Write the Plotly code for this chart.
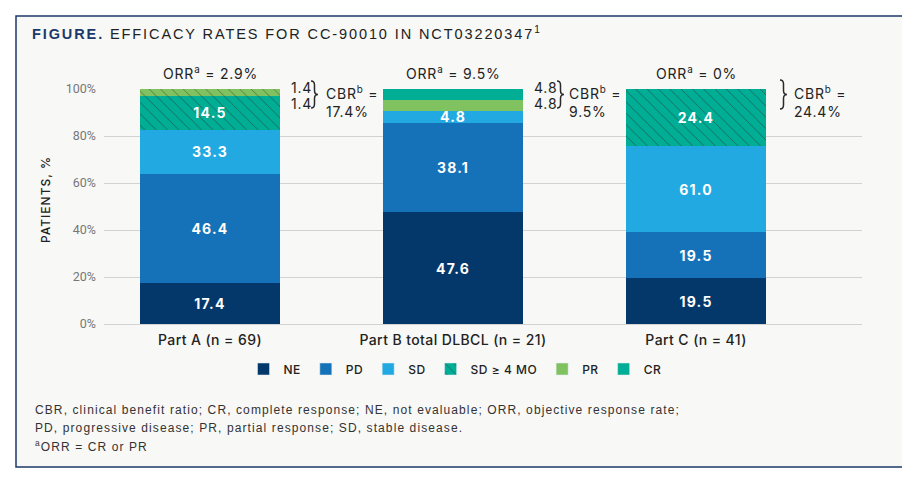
import plotly.graph_objects as go

# ---------------- data ----------------
categories = ["Part A (n = 69)", "Part B total DLBCL (n = 21)", "Part C (n = 41)"]
NE = [17.4, 47.6, 19.5]
PD = [46.4, 38.1, 19.5]
SD = [33.3, 4.8, 61.0]      # all stable disease
SD4 = [14.5, 0.0, 24.4]     # SD >= 4 months (part of SD)
PR = [1.4, 4.8, 0.0]
CR = [1.4, 4.8, 0.0]
ORR = [2.9, 9.5, 0]
CBR = [17.4, 9.5, 24.4]
legend_names = ["NE", "PD", "SD", "SD ≥ 4 MO", "PR", "CR"]
y_ticks = [0, 20, 40, 60, 80, 100]
y_ticklabels = ["0%", "20%", "40%", "60%", "80%", "100%"]

# ---------------- style ----------------
C_NE = "#05386a"
C_PD = "#1672b8"
C_SD = "#23a9e1"
C_CR = "#00ad95"
C_PR = "#80c25f"
BG = "#f8f8f6"
HATCH = dict(shape="\\", fgcolor="#333333", fgopacity=0.6, size=8, solidity=0.11)
top_hatched = [True, False, False]   # Part A top block drawn hatched

OFF = 8                      # page body margin
W, H = 900, 470
PL, PT, PWID, PHGT = 104, 89, 758, 235   # plot area in page pixels
L, T = PL - OFF, PT - OFF
R = W - L - PWID
B = H - T - PHGT
XR = [-0.436, 2.683]


def px(xp):
    return (xp - PL) / PWID


def py(yp):
    return (PT + PHGT - yp) / PHGT


def sp(t, s):
    return f"<span style='letter-spacing:{s}px'>{t}</span>"


BAR_W = 0.576
bar_font = dict(family="Inter", size=14, color="white", weight="bold")

SD_light = [s - s4 for s, s4 in zip(SD, SD4)]

fig = go.Figure()


def add_bar(y, color, text=None, pattern=None):
    fig.add_trace(go.Bar(
        x=categories, y=y, width=BAR_W,
        marker=dict(color=color, line=dict(width=0), pattern=pattern or {}),
        text=[sp(t, 1.2) if t else "" for t in text] if text else None,
        textposition="inside" if text else "none", insidetextanchor="middle", textangle=0,
        constraintext="none", textfont=bar_font, cliponaxis=False,
        showlegend=False, hoverinfo="skip",
    ))


add_bar(NE, C_NE, [f"{v}" for v in NE])
add_bar(PD, C_PD, [f"{v}" for v in PD])
add_bar(SD_light, C_SD, [f"{v}" for v in SD])
add_bar(SD4, C_CR, [f"{v}" if v > 0 else "" for v in SD4], HATCH)
top_pattern = dict(HATCH, shape=["\\" if h else "" for h in top_hatched])
add_bar(PR, C_PR, None, top_pattern)
add_bar(CR, [C_PR if h else C_CR for h in top_hatched], None, top_pattern)

# legend entries
leg_styles = [(C_NE, None), (C_PD, None), (C_SD, None), (C_CR, HATCH), (C_PR, None), (C_CR, None)]
for name, (col, pat) in zip(legend_names, leg_styles):
    fig.add_trace(go.Bar(x=[None], y=[None], name=sp(name, 0.5),
                         marker=dict(color=col, pattern=pat or {}),
                         showlegend=True, hoverinfo="skip"))

shapes = []
# frame
shapes.append(dict(type="rect", xref="paper", yref="paper", layer="below",
                   x0=px(16), x1=px(905), y0=py(467), y1=py(16),
                   fillcolor=BG, line=dict(color="#1b3a68", width=1.5)))
# covers for gridline behind the CBR labels
for x0, x1 in [(289, 378), (530, 618), (768, 853)]:
    shapes.append(dict(type="rect", xref="paper", yref="paper", layer="above",
                       x0=px(x0), x1=px(x1), y0=py(122), y1=py(78),
                       fillcolor=BG, line=dict(width=0)))


def brace(xl, yt, yb, w=8):
    xm = xl + w / 2
    ym = (yt + yb) / 2
    pts = [("M", [(xl, yt)]), ("Q", [(xm, yt), (xm, yt + 4)]), ("L", [(xm, ym - 4)]),
           ("Q", [(xm, ym), (xl + w, ym)]), ("Q", [(xm, ym), (xm, ym + 4)]),
           ("L", [(xm, yb - 4)]), ("Q", [(xm, yb), (xl, yb)])]
    s = ""
    for cmd, ps in pts:
        s += cmd + " ".join(f"{px(a):.5f},{py(b):.5f}" for a, b in ps) + " "
    return s


brace_pos = [(311, 81, 108), (557, 81, 108), (780, 80, 109)]
for xl, yt, yb in brace_pos:
    shapes.append(dict(type="path", xref="paper", yref="paper", layer="above",
                       path=brace(xl, yt, yb, 7), line=dict(color="#2a2a2a", width=1.5)))

ann = []
lab_font = dict(family="Inter", size=14, color="#222")
bar_centers_px = [210, 453, 696]
# ORR labels
for i, v in enumerate(ORR):
    ann.append(dict(x=px(bar_centers_px[i]), y=py(73), xref="paper", yref="paper", showarrow=False,
                    text=sp(f"ORR<sup>a</sup> = {v:g}%", 0.8), font=lab_font,
                    xanchor="center", yanchor="middle"))
# PR / CR values beside bars
val_x = [289, 532, None]
for i, xp in enumerate(val_x):
    if xp is None:
        continue
    for v, yp in [(PR[i], 87), (CR[i], 103)]:
        ann.append(dict(x=px(xp), y=py(yp), xref="paper", yref="paper", showarrow=False,
                        text=sp(f"{v}", 0.8), font=lab_font, xanchor="left", yanchor="middle"))
# CBR labels
cbr_x = [324, 567, 792]
for i, xp in enumerate(cbr_x):
    ann.append(dict(x=px(xp), y=py(102), xref="paper", yref="paper", showarrow=False,
                    text=sp(f"CBR<sup>b</sup> =<br>{CBR[i]:g}%", 0.8), font=lab_font,
                    xanchor="left", yanchor="middle", align="left"))
# title
ann.append(dict(x=px(30), y=py(33), xref="paper", yref="paper", showarrow=False,
                xanchor="left", yanchor="middle",
                text=sp("<b style='color:#1b3a6b'>FIGURE.</b> EFFICACY RATES FOR CC-90010 IN NCT03220347<sup>1</sup>", 1.9),
                font=dict(family="Liberation Sans", size=14.5, color="#222")))
# y-axis title
ann.append(dict(x=px(45), y=py(200), xref="paper", yref="paper", showarrow=False,
                textangle=-90, xanchor="center", yanchor="middle",
                text=sp("PATIENTS, %", 1.0),
                font=dict(family="Inter", size=12, color="#222", weight=500)))
# footnotes
foot = ["CBR, clinical benefit ratio; CR, complete response; NE, not evaluable; ORR, objective response rate;",
        "PD, progressive disease; PR, partial response; SD, stable disease.",
        "<sup>a</sup>ORR = CR or PR"]
for k, line in enumerate(foot):
    ann.append(dict(x=px(33), y=py(410 + 18 * k), xref="paper", yref="paper", showarrow=False,
                    xanchor="left", yanchor="middle", text=sp(line, 1.1),
                    font=dict(family="Liberation Sans", size=12, color="#333")))

fig.update_layout(
    width=W, height=H, margin=dict(l=L, r=R, t=T, b=B),
    paper_bgcolor="white", plot_bgcolor="rgba(0,0,0,0)",
    barmode="stack",
    font=dict(family="Inter", color="#222"),
    xaxis=dict(type="category", categoryorder="array", categoryarray=categories,
               tickvals=categories, ticktext=[sp(c, 0.4) for c in categories],
               range=XR, showgrid=False, showline=False, zeroline=False, ticks="",
               tickfont=dict(family="Inter", size=14, color="#222", weight=500),
               ticklabelstandoff=6, fixedrange=True),
    yaxis=dict(range=[0, 100], tickvals=y_ticks, ticktext=y_ticklabels,
               showgrid=True, gridcolor="#d2d2d2", gridwidth=1,
               zeroline=True, zerolinecolor="#d2d2d2", zerolinewidth=1,
               showline=False, ticks="",
               tickfont=dict(family="Roboto", size=12.5, color="#777"),
               ticklabelstandoff=7, fixedrange=True),
    legend=dict(orientation="h", x=px(455), y=py(369), xanchor="center", yanchor="middle",
                traceorder="normal", bgcolor="rgba(0,0,0,0)",
                font=dict(family="Inter", size=12, color="#222", weight=500)),
    shapes=shapes, annotations=ann,
)

fig.write_html("out.html")
